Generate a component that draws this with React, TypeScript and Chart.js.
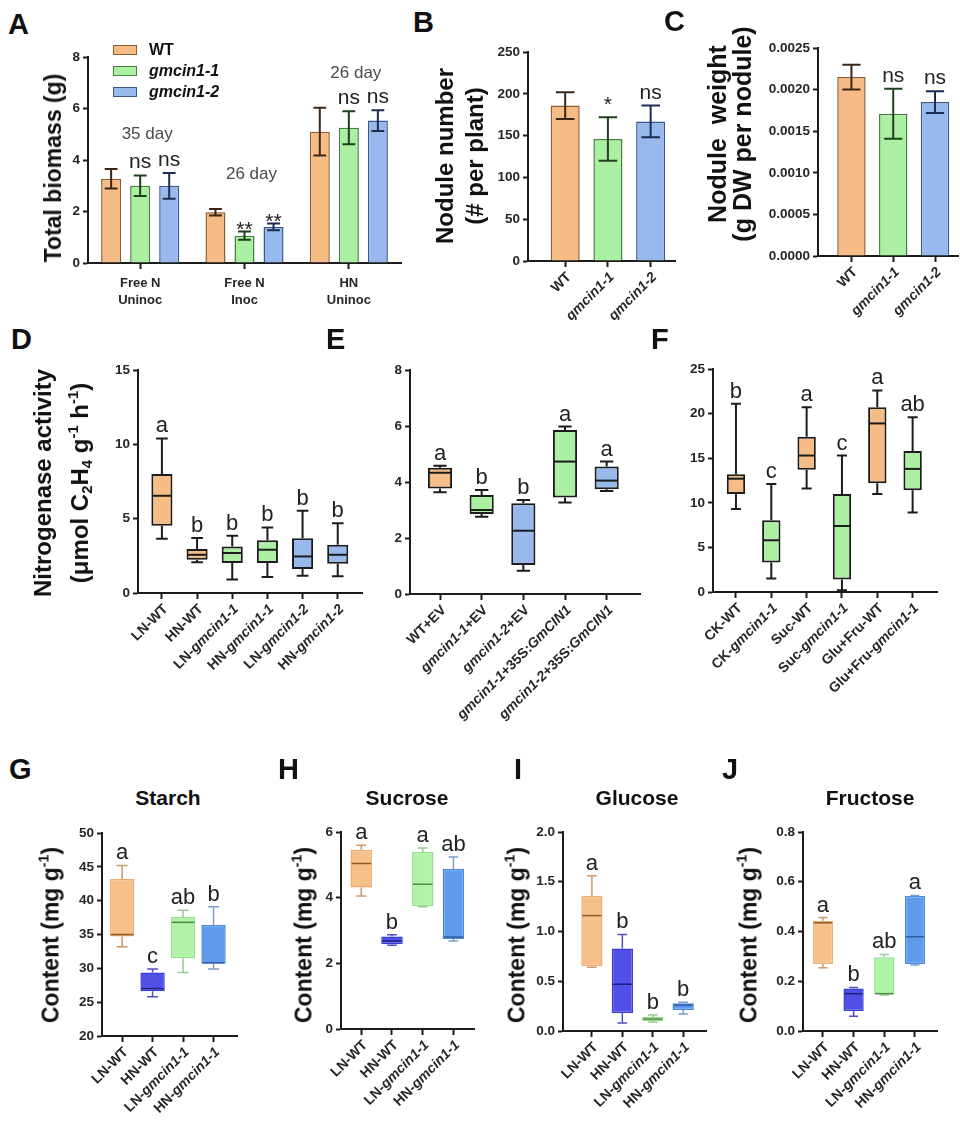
import React, { useEffect, useRef } from "react";
import { Chart, registerables } from "chart.js";

Chart.register(...registerables);

const FONT = "'Liberation Sans', Arial, Helvetica, sans-serif";

/* ============================ DATA ============================ */
// A – total biomass (g)
const groupsA = [["Free N", "Uninoc"], ["Free N", "Inoc"], ["HN", "Uninoc"]];
const seriesA = ["WT", "gmcin1-1", "gmcin1-2"];
const biomassWT = [3.27, 1.97, 5.1];
const biomassWTErr = [0.38, 0.13, 0.93];
const biomassG1 = [3.0, 1.06, 5.25];
const biomassG1Err = [0.4, 0.16, 0.64];
const biomassG2 = [3.0, 1.4, 5.53];
const biomassG2Err = [0.5, 0.13, 0.4];
const sigWTA = ["", "", ""];
const sigG1A = ["ns", "**", "ns"];
const sigG2A = ["ns", "**", "ns"];
const daysA = ["35 day", "26 day", "26 day"];
const ticksA = [0, 2, 4, 6, 8];

// B – nodule number
const genotypes = ["WT", "gmcin1-1", "gmcin1-2"];
const noduleNumber = [186, 146, 167];
const noduleNumberErr = [16, 26, 19];
const sigB = ["", "*", "ns"];
const ticksB = [0, 50, 100, 150, 200, 250];

// C – nodule weight
const noduleWeight = [0.00215, 0.00171, 0.00185];
const noduleWeightErr = [0.00015, 0.0003, 0.00013];
const sigC = ["", "ns", "ns"];
const ticksC = [0, 0.0005, 0.001, 0.0015, 0.002, 0.0025];

// D – nitrogenase activity
const catsD = ["LN-WT", "HN-WT", "LN-gmcin1-1", "HN-gmcin1-1", "LN-gmcin1-2", "HN-gmcin1-2"];
const minD = [3.65, 2.06, 0.9, 1.07, 1.16, 1.12];
const q1D = [4.52, 2.24, 2.01, 2.01, 1.61, 1.97];
const medD = [6.54, 2.57, 2.69, 2.91, 2.46, 2.57];
const q3D = [8.0, 2.96, 3.13, 3.54, 3.69, 3.25];
const maxD = [10.4, 3.7, 3.85, 4.41, 5.53, 4.7];
const letD = ["a", "b", "b", "b", "b", "b"];
const ticksD = [0, 5, 10, 15];

// E – complementation
const catsE = ["WT+EV", "gmcin1-1+EV", "gmcin1-2+EV", "gmcin1-1+35S:GmCIN1", "gmcin1-2+35S:GmCIN1"];
const minE = [3.63, 2.76, 0.83, 3.27, 3.68];
const q1E = [3.77, 2.86, 1.04, 3.45, 3.74];
const medE = [4.33, 3.0, 2.26, 4.73, 4.05];
const q3E = [4.51, 3.54, 3.24, 5.86, 4.55];
const maxE = [4.58, 3.71, 3.36, 5.98, 4.73];
const letE = ["a", "b", "b", "a", "a"];
const ticksE = [0, 2, 4, 6, 8];

// F – sugar feeding
const catsF = ["CK-WT", "CK-gmcin1-1", "Suc-WT", "Suc-gmcin1-1", "Glu+Fru-WT", "Glu+Fru-gmcin1-1"];
const minF = [9.3, 1.5, 11.6, 0.2, 11.0, 8.9];
const q1F = [11.0, 3.3, 13.7, 1.4, 12.2, 11.4];
const medF = [12.7, 5.8, 15.3, 7.4, 18.9, 13.8];
const q3F = [13.2, 8.05, 17.4, 11.0, 20.7, 15.8];
const maxF = [21.1, 12.1, 20.7, 15.3, 22.6, 19.6];
const letF = ["b", "c", "a", "c", "a", "ab"];
const ticksF = [0, 5, 10, 15, 20, 25];

// G–J – carbohydrate contents
const catsSugar = ["LN-WT", "HN-WT", "LN-gmcin1-1", "HN-gmcin1-1"];

const minStarch = [33.2, 25.8, 29.4, 29.9];
const q1Starch = [34.7, 26.6, 31.5, 30.7];
const medStarch = [35.0, 27.0, 36.8, 30.8];
const q3Starch = [43.2, 29.4, 37.6, 36.4];
const maxStarch = [45.2, 29.9, 38.6, 39.1];
const letStarch = ["a", "c", "ab", "b"];
const ticksStarch = [20, 25, 30, 35, 40, 45, 50];

const minSucrose = [4.05, 2.55, 3.72, 2.68];
const q1Sucrose = [4.31, 2.58, 3.75, 2.74];
const medSucrose = [5.04, 2.68, 4.41, 2.8];
const q3Sucrose = [5.46, 2.82, 5.39, 4.87];
const maxSucrose = [5.6, 2.87, 5.51, 5.24];
const letSucrose = ["a", "b", "a", "ab"];
const ticksSucrose = [0, 2, 4, 6];

const minGlucose = [0.64, 0.08, 0.09, 0.17];
const q1Glucose = [0.65, 0.18, 0.1, 0.21];
const medGlucose = [1.16, 0.47, 0.12, 0.26];
const q3Glucose = [1.36, 0.83, 0.14, 0.28];
const maxGlucose = [1.56, 0.97, 0.16, 0.29];
const letGlucose = ["a", "b", "b", "b"];
const ticksGlucose = [0, 0.5, 1.0, 1.5, 2.0];

const minFructose = [0.254, 0.059, 0.145, 0.265];
const q1Fructose = [0.269, 0.08, 0.147, 0.269];
const medFructose = [0.435, 0.15, 0.15, 0.379];
const q3Fructose = [0.442, 0.171, 0.296, 0.543];
const maxFructose = [0.456, 0.175, 0.308, 0.545];
const letFructose = ["a", "b", "ab", "a"];
const ticksFructose = [0, 0.2, 0.4, 0.6, 0.8];

/* ============================ STYLE ============================ */
const AX = "#1c1c1c";
const TICK_TXT = "#262626";
const OR = "#F6BC86", GR = "#ABF0A2", BL = "#97B9EC";
const OR_E = "#8E5E33", GR_E = "#467F42", BL_E = "#3A5A8E";
const OR_K = "#3b2615", GR_K = "#1f3f1d", BL_K = "#1c2c4e";

const FILL_A = [OR, GR, BL];
const EDGE_A = [OR_E, GR_E, BL_E];
const ERR_A = [OR_K, GR_K, BL_K];

const FILL_D = [OR, OR, GR, GR, BL, BL];
const FILL_E = [OR, GR, BL, GR, BL];
const FILL_F = [OR, GR, OR, GR, OR, GR];
const FILL_S = ["#F7C08A", "#5050E6", "#B0F2A6", "#5E9BEB"];
const EDGE_S = ["#EDAC70", "#3C3CD6", "#94E08A", "#4A88DE"];
const MED_S = ["#8A5A2A", "#1E1E80", "#4C8A48", "#2E5C9C"];
const WHISK_S = ["#C99A6A", "#5050C0", "#9ACB94", "#7E9FC8"];

const TICK_SIZE = 13.5;
const LABEL_SIZE = 14;

type Box = { cx: number; cy: number; cw: number; ch: number; x0: number; x1: number; y0: number; y1: number; xmin?: number; xmax?: number };

const BOX: Record<string, Box> = {
  A: { cx: 0, cy: 40, cw: 420, ch: 280, x0: 88, x1: 401, y0: 57, y1: 263 },
  B: { cx: 470, cy: 30, cw: 210, ch: 290, x0: 528, x1: 675, y0: 52, y1: 261, xmin: -0.87, xmax: 2.57 },
  C: { cx: 760, cy: 30, cw: 200, ch: 290, x0: 818, x1: 958, y0: 48, y1: 256, xmin: -0.8, xmax: 2.55 },
  D: { cx: 90, cy: 350, cw: 280, ch: 400, x0: 138, x1: 362, y0: 370, y1: 593, xmin: -0.68, xmax: 5.69 },
  E: { cx: 375, cy: 350, cw: 270, ch: 420, x0: 410, x1: 640, y0: 370, y1: 594, xmin: -0.72, xmax: 4.8 },
  F: { cx: 660, cy: 350, cw: 290, ch: 400, x0: 713, x1: 937, y0: 369, y1: 592, xmin: -0.65, xmax: 5.69 },
  G: { cx: 60, cy: 815, cw: 190, ch: 321, x0: 102, x1: 237, y0: 833, y1: 1036, xmin: -0.66, xmax: 3.77 },
  H: { cx: 300, cy: 815, cw: 185, ch: 321, x0: 341, x1: 474, y0: 832, y1: 1029, xmin: -0.66, xmax: 3.67 },
  I: { cx: 520, cy: 815, cw: 195, ch: 321, x0: 563, x1: 706, y0: 832, y1: 1031, xmin: -0.95, xmax: 3.75 },
  J: { cx: 760, cy: 815, cw: 190, ch: 321, x0: 803, x1: 937, y0: 832, y1: 1031, xmin: -0.65, xmax: 3.72 },
};

const ITAL_RE = /(gmcin1-\d|GmCIN1)/;
const isItal = (s: string) => /^(gmcin1-\d|GmCIN1)$/.test(s);

/* ============================ HELPERS ============================ */
function yLinear(b: Box, ticks: number[], fmt?: (v: number) => string) {
  const t: any = { color: TICK_TXT, font: { family: FONT, size: TICK_SIZE, weight: "bold" }, padding: 3 };
  if (fmt) t.callback = (v: any) => fmt(Number(v));
  return {
    type: "linear",
    min: ticks[0],
    max: ticks[ticks.length - 1],
    afterBuildTicks: (s: any) => {
      s.ticks = ticks.map((v) => ({ value: v }));
    },
    afterFit: (s: any) => {
      s.width = b.x0 - b.cx;
      s.paddingTop = 0;
      s.paddingBottom = 0;
    },
    grid: { display: true, drawOnChartArea: false, drawTicks: true, tickLength: 5, tickWidth: 2, tickColor: AX },
    border: { display: true, color: AX, width: 2 },
    ticks: t,
  };
}

function xLinear(b: Box, n: number) {
  return {
    type: "linear",
    min: b.xmin,
    max: b.xmax,
    offset: false,
    afterBuildTicks: (s: any) => {
      const arr: any[] = [];
      for (let i = 0; i < n; i++) arr.push({ value: i });
      s.ticks = arr;
    },
    afterFit: (s: any) => {
      s.height = b.cy + b.ch - b.y1;
      s.paddingLeft = 0;
      s.paddingRight = 0;
    },
    grid: { display: true, offset: false, drawOnChartArea: false, drawTicks: true, tickLength: 6, tickWidth: 2, tickColor: AX },
    border: { display: true, color: AX, width: 2 },
    ticks: { display: false },
  };
}

function baseOptions(b: Box, x: any, y: any) {
  return {
    animation: false,
    responsive: false,
    devicePixelRatio: 1,
    events: [],
    layout: { autoPadding: false, padding: { left: 0, top: b.y0 - b.cy, right: b.cx + b.cw - b.x1, bottom: 0 } },
    plugins: { legend: { display: false }, tooltip: { enabled: false }, title: { display: false } },
    scales: { x, y },
  };
}

function rotatedLabels(labels: string[], size: number) {
  return {
    id: "rotLabels",
    afterDraw(chart: any) {
      const ctx = chart.ctx;
      const xs = chart.scales.x;
      const yb = chart.chartArea.bottom + 14;
      labels.forEach((lab, i) => {
        const x = xs.getPixelForValue(i);
        const parts = lab.split(ITAL_RE).filter((p) => p);
        const fontOf = (p: string) => `${isItal(p) ? "italic " : ""}bold ${size}px ${FONT}`;
        ctx.save();
        ctx.translate(x + 4, yb);
        ctx.rotate(-Math.PI / 4);
        let total = 0;
        const widths = parts.map((p) => {
          ctx.font = fontOf(p);
          const w = ctx.measureText(p).width;
          total += w;
          return w;
        });
        let cur = -total;
        ctx.textAlign = "left";
        ctx.textBaseline = "middle";
        ctx.fillStyle = TICK_TXT;
        parts.forEach((p, k) => {
          ctx.font = fontOf(p);
          ctx.fillText(p, cur, 0);
          cur += widths[k];
        });
        ctx.restore();
      });
    },
  };
}

function errorBars(means: number[][], errs: number[][], colors: string[][], sigs: string[][], starShift: number, sigSize: number) {
  return {
    id: "errorBars",
    afterDatasetsDraw(chart: any) {
      const ctx = chart.ctx;
      const ys = chart.scales.y;
      means.forEach((row, d) => {
        const meta = chart.getDatasetMeta(d);
        row.forEach((m, i) => {
          const el = meta.data[i];
          const x = el.x;
          const c = el.width * 0.32;
          const top = ys.getPixelForValue(m + errs[d][i]);
          const bot = ys.getPixelForValue(m - errs[d][i]);
          ctx.save();
          ctx.strokeStyle = colors[d][i];
          ctx.lineWidth = 2;
          ctx.beginPath();
          ctx.moveTo(x, top);
          ctx.lineTo(x, bot);
          ctx.moveTo(x - c, top);
          ctx.lineTo(x + c, top);
          ctx.moveTo(x - c, bot);
          ctx.lineTo(x + c, bot);
          ctx.stroke();
          const s = sigs[d][i];
          if (s) {
            ctx.fillStyle = "#222";
            ctx.font = `${sigSize}px ${FONT}`;
            ctx.textAlign = "center";
            ctx.textBaseline = "alphabetic";
            ctx.fillText(s, x, s.includes("*") ? top + starShift : top - 7);
          }
          ctx.restore();
        });
      });
    },
  };
}

type BoxStyle = { fill: string[]; edge: string | string[]; edgeW: number; frac: number; whisk: string | string[]; whiskW: number; med: string | string[]; medW: number; cap: number; letterSize: number; labelSize: number };

const pick = (v: string | string[], i: number) => (Array.isArray(v) ? v[i] : v);

function boxDecor(mins: number[], meds: number[], maxs: number[], letters: string[], st: BoxStyle) {
  return {
    id: "boxDecor",
    afterDatasetsDraw(chart: any) {
      const ctx = chart.ctx;
      const ys = chart.scales.y;
      const meta = chart.getDatasetMeta(0);
      meta.data.forEach((el: any, i: number) => {
        const x = el.x;
        const w = el.width;
        const boxTop = Math.min(el.y, el.base);
        const boxBot = Math.max(el.y, el.base);
        const pMax = ys.getPixelForValue(maxs[i]);
        const pMin = ys.getPixelForValue(mins[i]);
        const pMed = ys.getPixelForValue(meds[i]);
        const c = (w * st.cap) / 2;
        ctx.save();
        ctx.strokeStyle = pick(st.whisk, i);
        ctx.lineWidth = st.whiskW;
        ctx.beginPath();
        if (pMax < boxTop - 0.5) {
          ctx.moveTo(x, boxTop);
          ctx.lineTo(x, pMax);
        }
        ctx.moveTo(x - c, pMax);
        ctx.lineTo(x + c, pMax);
        if (pMin > boxBot + 0.5) {
          ctx.moveTo(x, boxBot);
          ctx.lineTo(x, pMin);
        }
        ctx.moveTo(x - c, pMin);
        ctx.lineTo(x + c, pMin);
        ctx.stroke();
        ctx.strokeStyle = pick(st.med, i);
        ctx.lineWidth = st.medW;
        ctx.beginPath();
        ctx.moveTo(x - w / 2 + 1, pMed);
        ctx.lineTo(x + w / 2 - 1, pMed);
        ctx.stroke();
        ctx.fillStyle = "#222";
        ctx.font = `${st.letterSize}px ${FONT}`;
        ctx.textAlign = "center";
        ctx.textBaseline = "alphabetic";
        ctx.fillText(letters[i], x, pMax - 6);
        ctx.restore();
      });
    },
  };
}

function boxConfig(b: Box, cats: string[], mins: number[], q1s: number[], meds: number[], q3s: number[], maxs: number[], letters: string[], ticks: number[], fmt: ((v: number) => string) | undefined, st: BoxStyle) {
  return {
    type: "bar",
    data: {
      datasets: [
        {
          data: cats.map((_, i) => ({ x: i, y: [q1s[i], q3s[i]] })),
          backgroundColor: st.fill,
          borderColor: st.edge,
          borderWidth: st.edgeW,
          borderSkipped: false,
          barPercentage: st.frac,
          categoryPercentage: 1,
        },
      ],
    },
    options: baseOptions(b, xLinear(b, cats.length), yLinear(b, ticks, fmt)),
    plugins: [boxDecor(mins, meds, maxs, letters, st), rotatedLabels(cats, st.labelSize)],
  };
}

function singleBarConfig(b: Box, cats: string[], vals: number[], errs: number[], sigs: string[], ticks: number[], fmt?: (v: number) => string) {
  return {
    type: "bar",
    data: {
      datasets: [
        {
          data: cats.map((_, i) => ({ x: i, y: vals[i] })),
          backgroundColor: FILL_A,
          borderColor: EDGE_A,
          borderWidth: 1.5,
          barPercentage: 0.68,
          categoryPercentage: 1,
        },
      ],
    },
    options: baseOptions(b, xLinear(b, cats.length), yLinear(b, ticks, fmt)),
    plugins: [errorBars([vals], [errs], [ERR_A], [sigs], -6, 21), rotatedLabels(cats, LABEL_SIZE)],
  };
}

function configA() {
  const b = BOX.A;
  const means = [biomassWT, biomassG1, biomassG2];
  const errs = [biomassWTErr, biomassG1Err, biomassG2Err];
  const sigs = [sigWTA, sigG1A, sigG2A];
  const x = {
    type: "category",
    offset: true,
    afterFit: (s: any) => {
      s.height = b.cy + b.ch - b.y1;
      s.paddingLeft = 0;
      s.paddingRight = 0;
    },
    grid: { display: true, offset: false, drawOnChartArea: false, drawTicks: true, tickLength: 6, tickWidth: 2, tickColor: AX },
    border: { display: true, color: AX, width: 2 },
    ticks: { color: TICK_TXT, font: { family: FONT, size: 13, weight: "bold", lineHeight: 1.3 }, padding: 6, maxRotation: 0, minRotation: 0 },
  };
  const dayLabels = {
    id: "dayLabels",
    afterDatasetsDraw(chart: any) {
      const ctx = chart.ctx;
      const ys = chart.scales.y;
      const xs = chart.scales.x;
      daysA.forEach((txt, i) => {
        let top = Infinity;
        means.forEach((row, d) => {
          top = Math.min(top, ys.getPixelForValue(row[i] + errs[d][i]));
        });
        ctx.save();
        ctx.fillStyle = "#4a4a4a";
        ctx.font = `17px ${FONT}`;
        ctx.textAlign = "center";
        ctx.textBaseline = "alphabetic";
        ctx.fillText(txt, xs.getPixelForValue(i) + 7, top - 30);
        ctx.restore();
      });
    },
  };
  return {
    type: "bar",
    data: {
      labels: groupsA,
      datasets: seriesA.map((name, d) => ({
        label: name,
        data: means[d],
        backgroundColor: FILL_A[d],
        borderColor: EDGE_A[d],
        borderWidth: 1.5,
        categoryPercentage: 0.835,
        barPercentage: 0.69,
      })),
    },
    options: baseOptions(b, x, yLinear(b, ticksA)),
    plugins: [errorBars(means, errs, [ERR_A.map(() => ERR_A[0]), ERR_A.map(() => ERR_A[1]), ERR_A.map(() => ERR_A[2])], sigs, 4, 21), dayLabels],
  };
}

const STYLE_DEF: BoxStyle = { fill: FILL_D, edge: AX, edgeW: 2, frac: 0.6, whisk: AX, whiskW: 2, med: AX, medW: 2, cap: 0.55, letterSize: 22, labelSize: LABEL_SIZE };
const sugarStyle = (frac: number): BoxStyle => ({ fill: FILL_S, edge: EDGE_S, edgeW: 1.5, frac, whisk: WHISK_S, whiskW: 1.5, med: MED_S, medW: 1.5, cap: 0.45, letterSize: 22, labelSize: LABEL_SIZE });

const fix = (n: number) => (v: number) => v.toFixed(n);

/* ============================ COMPONENTS ============================ */
function ChartCanvas({ box, build }: { box: Box; build: () => any }) {
  const ref = useRef<HTMLCanvasElement>(null);
  useEffect(() => {
    const chart = new Chart(ref.current as HTMLCanvasElement, build() as any);
    return () => chart.destroy();
  }, []);
  return <canvas ref={ref} width={box.cw} height={box.ch} style={{ position: "absolute", left: box.cx, top: box.cy, width: box.cw, height: box.ch }} />;
}

const italicize = (s: string) =>
  s
    .split(ITAL_RE)
    .filter((p) => p)
    .map((p, k) => (isItal(p) ? <i key={k}>{p}</i> : <span key={k}>{p}</span>));

function Txt({ x, y, size, children, bold = true, center = false, color = "#111" }: any) {
  return (
    <div
      style={{
        position: "absolute",
        left: x,
        top: y - size * 0.8465,
        transform: center ? "translateX(-50%)" : undefined,
        fontFamily: FONT,
        fontSize: size,
        fontWeight: bold ? 700 : 400,
        lineHeight: 1,
        whiteSpace: "nowrap",
        color,
      }}
    >
      {children}
    </div>
  );
}

function VTitle({ x, y, size, lh, lines }: any) {
  return (
    <div
      style={{
        position: "absolute",
        left: x,
        top: y,
        transform: "translate(-50%, -50%) rotate(-90deg)",
        fontFamily: FONT,
        fontWeight: 700,
        fontSize: size,
        lineHeight: `${lh}px`,
        textAlign: "center",
        whiteSpace: "nowrap",
        color: "#111",
      }}
    >
      {lines.map((l: any, k: number) => (
        <div key={k} style={{ whiteSpace: "pre" }}>{l}</div>
      ))}
    </div>
  );
}

const Sup = ({ c }: any) => <span style={{ fontSize: "0.62em", position: "relative", top: "-0.7em" }}>{c}</span>;
const Sub = ({ c }: any) => <span style={{ fontSize: "0.62em", position: "relative", top: "0.3em" }}>{c}</span>;

export default function App() {
  const contentTitle = (
    <>
      Content (mg g<Sup c="-1" />)
    </>
  );
  return (
    <div style={{ position: "absolute", left: 0, top: 0, width: 960, height: 1136, background: "#fff", overflow: "hidden" }}>
      <ChartCanvas box={BOX.A} build={configA} />
      <ChartCanvas box={BOX.B} build={() => singleBarConfig(BOX.B, genotypes, noduleNumber, noduleNumberErr, sigB, ticksB)} />
      <ChartCanvas box={BOX.C} build={() => singleBarConfig(BOX.C, genotypes, noduleWeight, noduleWeightErr, sigC, ticksC, fix(4))} />
      <ChartCanvas box={BOX.D} build={() => boxConfig(BOX.D, catsD, minD, q1D, medD, q3D, maxD, letD, ticksD, undefined, STYLE_DEF)} />
      <ChartCanvas box={BOX.E} build={() => boxConfig(BOX.E, catsE, minE, q1E, medE, q3E, maxE, letE, ticksE, undefined, { ...STYLE_DEF, fill: FILL_E, frac: 0.58 })} />
      <ChartCanvas box={BOX.F} build={() => boxConfig(BOX.F, catsF, minF, q1F, medF, q3F, maxF, letF, ticksF, undefined, { ...STYLE_DEF, fill: FILL_F, frac: 0.52 })} />
      <ChartCanvas box={BOX.G} build={() => boxConfig(BOX.G, catsSugar, minStarch, q1Starch, medStarch, q3Starch, maxStarch, letStarch, ticksStarch, undefined, sugarStyle(0.8))} />
      <ChartCanvas box={BOX.H} build={() => boxConfig(BOX.H, catsSugar, minSucrose, q1Sucrose, medSucrose, q3Sucrose, maxSucrose, letSucrose, ticksSucrose, undefined, sugarStyle(0.7))} />
      <ChartCanvas box={BOX.I} build={() => boxConfig(BOX.I, catsSugar, minGlucose, q1Glucose, medGlucose, q3Glucose, maxGlucose, letGlucose, ticksGlucose, fix(1), sugarStyle(0.7))} />
      <ChartCanvas box={BOX.J} build={() => boxConfig(BOX.J, catsSugar, minFructose, q1Fructose, medFructose, q3Fructose, maxFructose, letFructose, ticksFructose, fix(1), sugarStyle(0.66))} />

      {/* panel letters */}
      <Txt x={8} y={35} size={29}>A</Txt>
      <Txt x={413} y={33} size={29}>B</Txt>
      <Txt x={664} y={32} size={29}>C</Txt>
      <Txt x={11} y={350} size={29}>D</Txt>
      <Txt x={326} y={350} size={29}>E</Txt>
      <Txt x={651} y={350} size={29}>F</Txt>
      <Txt x={9} y={780} size={29}>G</Txt>
      <Txt x={278} y={780} size={29}>H</Txt>
      <Txt x={514} y={780} size={29}>I</Txt>
      <Txt x={722} y={780} size={29}>J</Txt>

      {/* legend of A */}
      {seriesA.map((name, d) => (
        <React.Fragment key={name}>
          <div style={{ position: "absolute", left: 113, top: 45 + d * 21, width: 24, height: 10, boxSizing: "border-box", background: FILL_A[d], border: `1.5px solid ${EDGE_A[d]}` }} />
          <Txt x={149} y={56 + d * 21} size={16}>{italicize(name)}</Txt>
        </React.Fragment>
      ))}

      {/* axis titles */}
      <VTitle x={53} y={168} size={23} lh={28} lines={["Total biomass (g)"]} />
      <VTitle x={460} y={156} size={24} lh={30} lines={["Nodule number", "(# per plant)"]} />
      <VTitle x={730} y={134} size={25} lh={25} lines={["Nodule  weight", "(g DW per nodule)"]} />
      <VTitle
        x={63}
        y={483}
        size={24}
        lh={37}
        lines={[
          "Nitrogenase activity",
          <>
            (μmol C<Sub c="2" />H<Sub c="4" /> g<Sup c="-1" /> h<Sup c="-1" />)
          </>,
        ]}
      />
      <VTitle x={52} y={935} size={23} lh={28} lines={[contentTitle]} />
      <VTitle x={305} y={935} size={23} lh={28} lines={[contentTitle]} />
      <VTitle x={518} y={935} size={23} lh={28} lines={[contentTitle]} />
      <VTitle x={750} y={935} size={23} lh={28} lines={[contentTitle]} />

      {/* G–J titles */}
      <Txt x={168} y={805} size={21} center>Starch</Txt>
      <Txt x={407} y={805} size={21} center>Sucrose</Txt>
      <Txt x={637} y={805} size={21} center>Glucose</Txt>
      <Txt x={870} y={805} size={21} center>Fructose</Txt>
    </div>
  );
}
